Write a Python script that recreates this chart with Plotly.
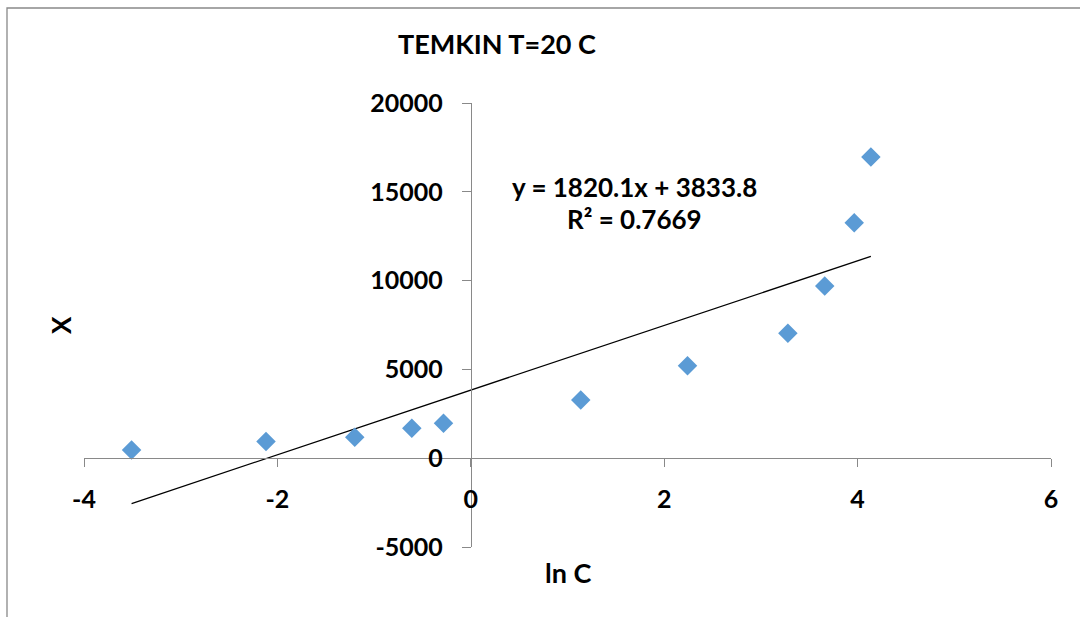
import plotly.graph_objects as go

# ln C values and X values of the measured points
ln_c = [-3.508, -2.118, -1.200, -0.610, -0.282, 1.137, 2.241, 3.279, 3.660, 3.965, 4.137]
x_val = [467, 934, 1181, 1687, 1969, 3279, 5208, 7030, 9691, 13251, 16963]

# linear trendline coefficients
slope = 1820.1
intercept = 3833.8
r_squared = 0.7669

x_ticks = [-4, -2, 0, 2, 4, 6]
y_ticks = [-5000, 0, 5000, 10000, 15000, 20000]

FONT = "Lato"
AXIS_GREY = "#898989"

# plot area in pixels (margins)
L, R, T, B = 84, 29, 103, 70
W, H = 1080, 617
PW, PH = W - L - R, H - T - B


def px_to_paper(px, py):
    """Convert page pixel position to plot-area paper fractions."""
    return (px - L) / PW, (H - B - py) / PH


trend_x = [min(ln_c), max(ln_c)]
trend_y = [slope * v + intercept for v in trend_x]

fig = go.Figure()
fig.add_trace(go.Scatter(
    x=trend_x, y=trend_y, mode="lines",
    line=dict(color="black", width=1.3),
    showlegend=False, hoverinfo="skip",
))
fig.add_trace(go.Scatter(
    x=ln_c, y=x_val, mode="markers",
    marker=dict(symbol="diamond", size=15, color="#5B9BD5", line=dict(width=0)),
    showlegend=False,
))

tick_font = dict(family=FONT, size=25, color="black", weight="bold")

xlab_x, xlab_y = px_to_paper(568, 572)
ylab_x, ylab_y = px_to_paper(61, 325)
bx0, by1 = px_to_paper(7, 8)
bx1, by0 = px_to_paper(1095, 635)

fig.update_layout(
    width=W, height=H,
    margin=dict(l=L, r=R, t=T, b=B),
    paper_bgcolor="white", plot_bgcolor="white",
    font=dict(family=FONT, color="black"),
    xaxis=dict(
        range=[-4, 6], tickvals=x_ticks, ticktext=[str(t) for t in x_ticks],
        anchor="free", position=0.2,
        showline=True, linecolor=AXIS_GREY, linewidth=1,
        ticks="outside", ticklen=8, tickcolor=AXIS_GREY, tickwidth=1,
        ticklabelstandoff=11,
        showgrid=False, zeroline=False, tickfont=tick_font,
    ),
    yaxis=dict(
        range=[-5000, 20000], tickvals=y_ticks, ticktext=[str(t) for t in y_ticks],
        anchor="free", position=0.4,
        showline=True, linecolor=AXIS_GREY, linewidth=1,
        ticks="outside", ticklen=9, tickcolor=AXIS_GREY, tickwidth=1,
        ticklabelstandoff=14,
        showgrid=False, zeroline=False, tickfont=tick_font,
    ),
    title=dict(
        text="TEMKIN T=20 C", x=497 / W, xanchor="center", y=1 - 45 / H, yanchor="middle",
        font=dict(family=FONT, size=27, color="black", weight="bold"),
    ),
    shapes=[dict(
        type="rect", xref="paper", yref="paper",
        x0=bx0, x1=bx1, y0=by0, y1=by1,
        line=dict(color=AXIS_GREY, width=1.3), fillcolor="rgba(0,0,0,0)", layer="below",
    )],
    annotations=[
        dict(text="y = 1820.1x + 3833.8", x=1.689, y=15259, xref="x", yref="y",
             showarrow=False, xanchor="center", yanchor="middle",
             font=dict(family=FONT, size=26, color="black", weight="bold")),
        dict(text=f"R² = {r_squared}", x=1.689, y=13459, xref="x", yref="y",
             showarrow=False, xanchor="center", yanchor="middle",
             font=dict(family=FONT, size=26, color="black", weight="bold")),
        dict(text="X", x=ylab_x, y=ylab_y, xref="paper", yref="paper",
             showarrow=False, textangle=-90, xanchor="center", yanchor="middle",
             font=dict(family=FONT, size=26, color="black", weight="bold")),
        dict(text="ln C", x=xlab_x, y=xlab_y, xref="paper", yref="paper",
             showarrow=False, xanchor="center", yanchor="middle",
             font=dict(family=FONT, size=27, color="black", weight="bold")),
    ],
)

fig.write_html("out.html")
